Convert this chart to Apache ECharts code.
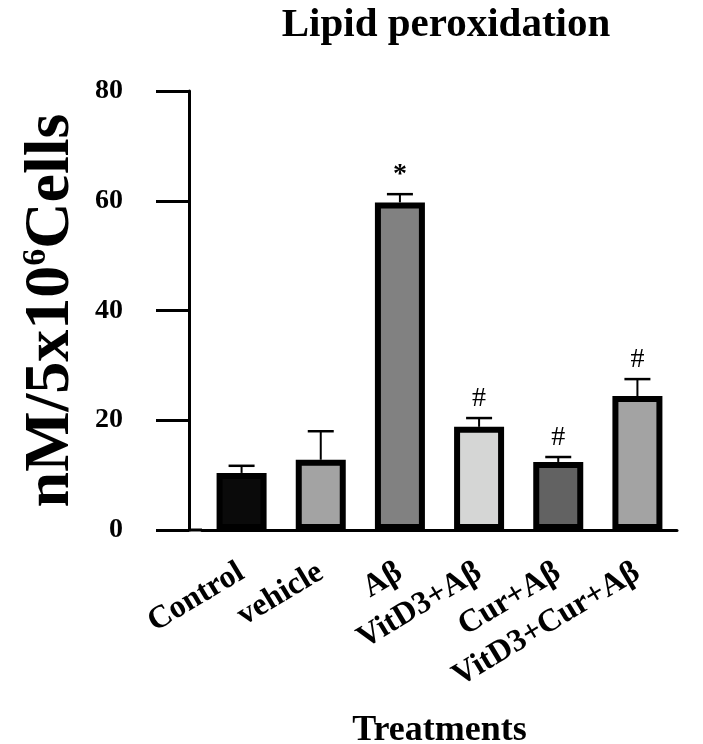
<!DOCTYPE html>
<html>
<head>
<meta charset="utf-8">
<script src="https://cdn.jsdelivr.net/npm/echarts@6/dist/echarts.min.js"></script>
<style>
  html, body { margin: 0; padding: 0; background: #fff; }
  #main { width: 703px; height: 744px; }
</style>
</head>
<body>
<div id="main"></div>
<script>
var categories = ['Control', 'vehicle', 'Aβ', 'VitD3+Aβ', 'Cur+Aβ', 'VitD3+Cur+Aβ'];
var means = [10.4, 12.8, 59.7, 18.8, 12.4, 24.4];
var errTops = [11.7, 18.0, 61.2, 20.4, 13.3, 27.5];
var marks = ['', '', '*', '#', '#', '#'];
var barColors = ['#0a0a0a', '#a3a3a3', '#818181', '#d5d6d5', '#626262', '#a3a3a3'];
var yTicks = [0, 20, 40, 60, 80];

var FONT = '"Liberation Serif", "DejaVu Serif", serif';

var chart = echarts.init(document.getElementById('main'));

var option = {
    animation: false,
    backgroundColor: '#fff',
    title: {
        text: 'Lipid peroxidation',
        left: 441,
        top: 0,
        textAlign: 'center',
        textStyle: {
            fontFamily: FONT,
            fontWeight: 'bold',
            fontSize: 41,
            color: '#000'
        }
    },
    grid: {
        left: 202,
        right: 26,
        top: 91,
        bottom: 214,
        containLabel: false,
        outerBoundsMode: 'none'
    },
    xAxis: {
        type: 'category',
        data: categories,
        name: 'Treatments',
        nameLocation: 'middle',
        nameGap: 183,
        nameTextStyle: {
            fontFamily: FONT,
            fontWeight: 'bold',
            fontSize: 36,
            color: '#000'
        },
        axisLine: { lineStyle: { color: '#000', width: 3 } },
        axisTick: {
            alignWithLabel: true,
            length: 20,
            lineStyle: { color: '#000', width: 3 }
        },
        axisLabel: {
            rotate: 31,
            margin: 40,
            interval: 0,
            fontFamily: FONT,
            fontWeight: 'bold',
            fontSize: 32,
            color: '#000'
        }
    },
    yAxis: {
        type: 'value',
        min: yTicks[0],
        max: yTicks[yTicks.length - 1],
        interval: 20,
        offset: 13,
        name: '{a|nM/5x10}{b|6}{a|Cells}',
        nameLocation: 'middle',
        nameGap: 106,
        nameRotate: 90,
        nameTextStyle: {
            rich: {
                a: { fontFamily: FONT, fontWeight: 'bold', fontSize: 64, color: '#000' },
                b: { fontFamily: FONT, fontWeight: 'bold', fontSize: 34, color: '#000', verticalAlign: 'top', padding: [0, 0, 22, 0] }
            }
        },
        splitLine: { show: false },
        axisLine: { show: true, lineStyle: { color: '#000', width: 3 } },
        axisTick: {
            show: true,
            length: 33,
            lineStyle: { color: '#000', width: 3 }
        },
        axisLabel: {
            margin: 66,
            fontFamily: FONT,
            fontWeight: 'bold',
            fontSize: 28,
            color: '#000'
        }
    },
    series: [
        {
            type: 'bar',
            barWidth: 50,
            data: means.map(function (v, i) {
                return {
                    value: v,
                    itemStyle: { color: barColors[i] }
                };
            }),
            itemStyle: {
                borderColor: '#000',
                borderWidth: 6
            },
            z: 2
        },
        {
            type: 'custom',
            data: categories.map(function (c, i) { return [i, means[i], errTops[i]]; }),
            encode: { x: 0, y: [1, 2] },
            z: 3,
            renderItem: function (params, api) {
                var i = api.value(0);
                var lo = api.coord([i, api.value(1)]);
                var hi = api.coord([i, api.value(2)]);
                var half = 13;
                var children = [
                    { type: 'line', shape: { x1: lo[0], y1: lo[1], x2: hi[0], y2: hi[1] }, style: { stroke: '#000', lineWidth: 2 } },
                    { type: 'line', shape: { x1: hi[0] - half, y1: hi[1], x2: hi[0] + half, y2: hi[1] }, style: { stroke: '#000', lineWidth: 2.5 } }
                ];
                if (marks[i]) {
                    children.push({
                        type: 'text',
                        style: {
                            text: marks[i],
                            x: hi[0],
                            y: hi[1] - 5,
                            align: 'center',
                            verticalAlign: 'bottom',
                            fontFamily: FONT,
                            fontSize: 28,
                            fontWeight: marks[i] === '*' ? 'bold' : 'normal',
                            fill: '#000'
                        }
                    });
                }
                return { type: 'group', children: children };
            }
        }
    ]
};

chart.setOption(option);

// close the gap between the offset y axis and the start of the x axis
var zeroY = chart.convertToPixel({ yAxisIndex: 0 }, 0);
chart.setOption({
    graphic: [{
        type: 'line',
        shape: { x1: option.grid.left - option.yAxis.offset, y1: zeroY, x2: option.grid.left, y2: zeroY },
        style: { stroke: '#000', lineWidth: 3 }
    }]
});
</script>
</body>
</html>
